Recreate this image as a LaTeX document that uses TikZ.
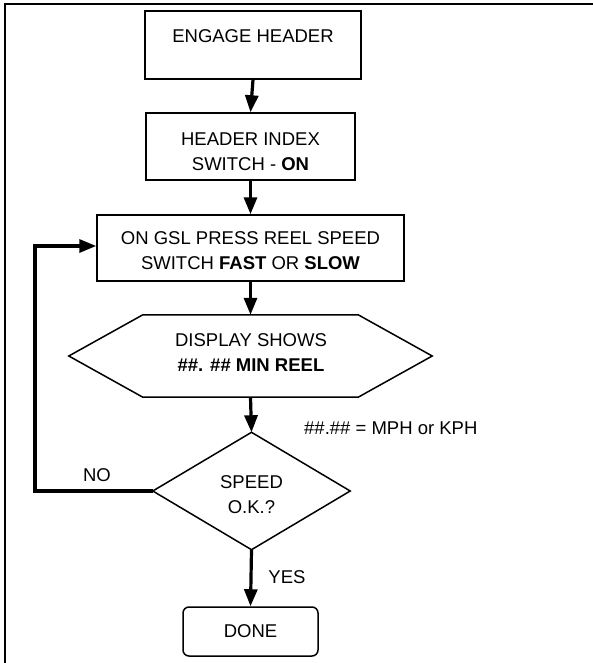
\documentclass[tikz,border=0pt]{standalone}
\usepackage{fontspec}
\setmainfont{Liberation Sans}
\usetikzlibrary{arrows.meta}
\begin{document}
\begin{tikzpicture}[x=1pt,y=-1pt,
  every node/.style={font=\fontsize{18.5}{25}\selectfont, inner sep=0pt},
  stepbox/.style={draw, line width=1.5pt},
  shapebox/.style={},
  txt/.style={align=center},
  outline/.style={draw, line width=1.5pt, line join=miter},
  flow/.style={line width=3.2pt, -{Triangle[length=17pt,width=13pt]}}]
\useasboundingbox (0,0) rectangle (593,663);
\draw[line width=2pt] (5,670) -- (5,4.5) -- (600,4.5);

\node[stepbox, minimum width=216pt, minimum height=68pt] (b1) at (253,45) {};
\node[txt] (b1t) at (253,36) {ENGAGE HEADER};
\node[stepbox, minimum width=209pt, minimum height=67pt] (b2) at (250.5,146.5) {};
\node[txt] (b2t) at (250.5,151.5) {HEADER INDEX\\SWITCH - \textbf{ON}};
\node[stepbox, minimum width=307pt, minimum height=66pt] (b3) at (250.5,248) {};
\node[txt] (b3t) at (250.5,251) {ON GSL PRESS REEL SPEED\\SWITCH \textbf{FAST} OR \textbf{SLOW}};

\node[shapebox, minimum width=363pt, minimum height=82pt] (hex) at (250.5,356) {};
\node[txt] (hext) at (251,352.5) {DISPLAY SHOWS\\\textbf{\#\#. \#\# MIN REEL}};
\draw[outline] (hex.west) -- ([xshift=74pt]hex.north west) -- ([xshift=-74pt]hex.north east)
  -- (hex.east) -- ([xshift=-74pt]hex.south east) -- ([xshift=74pt]hex.south west) -- cycle;

\node[shapebox, minimum width=197pt, minimum height=117pt] (dia) at (251.5,491) {};
\node[txt] (diat) at (251.5,494.5) {SPEED\\O.K.?};
\draw[outline] (dia.north) -- (dia.east) -- (dia.south) -- (dia.west) -- cycle;

\node[stepbox, rounded corners=6pt, minimum width=135pt, minimum height=49pt] (done) at (250.5,631.5) {DONE};

\node[anchor=west] (note) at (304,428) {\#\#.\#\# = MPH or KPH};
\node (no) at (97,475) {NO};
\node (yes) at (287,577) {YES};

\draw[flow] (b1.south) -- (b2.north);
\draw[flow] (b2.south) -- (b3.north);
\draw[flow] (b3.south) -- (hex.north);
\draw[flow] (hex.south) -- (dia.north);
\draw[flow] (dia.south) -- (done.north);
\coordinate (lp) at (35,491);
\coordinate (lt) at (35,246);
\draw[flow] (dia.west) -- (lp) -- (lt) -- (lt -| b3.west);
\end{tikzpicture}
\end{document}
